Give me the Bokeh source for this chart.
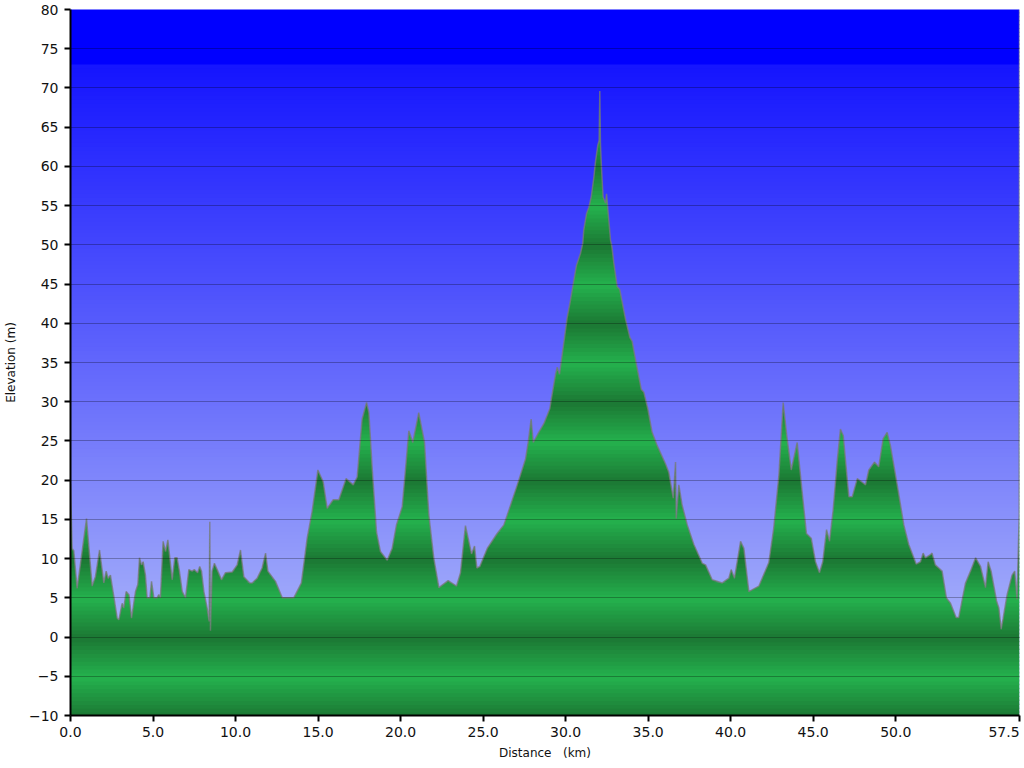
import numpy as np
from bokeh.plotting import figure
from bokeh.models import Range1d, FixedTicker, NumeralTickFormatter, LinearAxis
from bokeh.embed import file_html
from bokeh.resources import INLINE

# ---------------- data ----------------
distance_km = [
    0.00, 0.10, 0.20, 0.40, 0.55, 0.97, 1.31, 1.51, 1.76, 2.02, 2.16, 2.28, 2.42, 2.83, 2.93,
    3.13, 3.23, 3.37, 3.54, 3.70, 3.94, 4.08, 4.18, 4.30, 4.40, 4.54, 4.64, 4.81, 4.91, 5.05,
    5.25, 5.35, 5.45, 5.61, 5.76, 5.90, 6.16, 6.32, 6.46, 6.60, 6.77, 6.97, 7.17, 7.37, 7.50,
    7.70, 7.83, 7.94, 8.08, 8.28, 8.40, 8.44, 8.48, 8.58, 8.72, 8.89, 9.15, 9.39, 9.80, 10.10,
    10.30, 10.50, 10.86, 11.01, 11.31, 11.61, 11.82, 11.96, 12.42, 12.83, 13.53, 13.99, 14.34,
    14.64, 14.99, 15.31, 15.55, 15.92, 16.26, 16.70, 17.13, 17.37, 17.67, 17.94, 18.08, 18.28,
    18.54, 18.78, 19.19, 19.49, 19.75, 20.10, 20.50, 20.74, 21.10, 21.45, 21.71, 22.01, 22.32,
    22.88, 23.39, 23.63, 23.93, 24.30, 24.48, 24.62, 24.80, 25.25, 25.85, 26.26, 26.66, 27.07,
    27.57, 27.73, 27.91, 28.04, 28.37, 28.68, 29.04, 29.13, 29.39, 29.49, 29.63, 29.89, 30.09,
    30.30, 30.50, 30.66, 30.90, 31.04, 31.10, 31.27, 31.41, 31.55, 31.71, 31.81, 31.95, 32.03,
    32.07, 32.11, 32.17, 32.27, 32.42, 32.48, 32.58, 32.72, 32.80, 32.92, 33.12, 33.28, 33.63,
    33.89, 34.03, 34.23, 34.58, 34.74, 34.98, 35.24, 35.55, 36.05, 36.25, 36.52, 36.66, 36.70,
    36.86, 37.06, 37.37, 37.77, 38.28, 38.48, 38.88, 39.49, 39.89, 40.03, 40.23, 40.60, 40.80,
    41.10, 41.71, 42.31, 42.61, 42.92, 43.18, 43.42, 43.67, 44.03, 44.33, 44.59, 44.88, 45.14,
    45.38, 45.58, 45.81, 45.99, 46.21, 46.45, 46.65, 46.82, 47.16, 47.37, 47.67, 47.93, 48.17,
    48.37, 48.71, 48.97, 49.24, 49.48, 49.68, 50.09, 50.49, 50.79, 51.24, 51.50, 51.66, 51.80,
    52.10, 52.20, 52.40, 52.61, 52.81, 53.07, 53.32, 53.66, 53.82, 54.23, 54.53, 54.84, 55.14,
    55.44, 55.60, 55.78, 56.11, 56.25, 56.39, 56.51, 56.75, 57.05, 57.21, 57.35, 57.48, 57.50,
]
elevation_m = [
    19.5, 11.3, 11.0, 6.2, 8.5, 15.1, 6.5, 7.7, 11.1, 6.9, 8.4, 7.5, 7.9, 2.4, 2.2,
    4.3, 3.7, 5.8, 5.4, 2.4, 5.8, 6.7, 10.1, 9.2, 9.6, 7.9, 5.0, 5.0, 7.1, 5.0,
    5.0, 5.4, 5.0, 12.2, 10.9, 12.4, 7.3, 10.1, 10.1, 8.4, 5.8, 5.0, 8.6, 8.4, 8.6,
    8.2, 9.0, 8.4, 5.8, 3.7, 2.0, 14.7, 0.8, 8.4, 9.4, 8.6, 7.3, 8.2, 8.3, 9.2,
    11.1, 7.7, 6.9, 6.9, 7.5, 8.8, 10.7, 8.4, 7.1, 5.0, 5.0, 6.9, 12.6,
    16.0, 21.3, 19.8, 16.4, 17.5, 17.5, 20.2, 19.4, 20.4, 27.8, 29.9, 28.6, 21.5,
    13.4, 10.9, 9.8, 11.3, 14.3, 16.6, 26.3, 24.8, 28.6, 24.8, 15.6, 10.1, 6.3,
    7.2, 6.5, 8.2, 14.2, 10.6, 11.6, 8.8, 9.0, 11.3, 13.2, 14.3, 16.8, 19.4,
    22.7, 24.8, 27.8, 24.8, 26.1, 27.2, 29.1, 30.3, 33.5, 34.4, 33.5, 37.5, 40.7,
    43.0, 45.5, 47.4, 48.9, 50.2, 51.9, 54.0, 54.8, 56.1, 58.6, 60.6, 62.7, 63.3,
    69.6, 62.9, 59.9, 56.1, 55.3, 56.5, 54.0, 50.6, 49.8, 47.7, 44.7, 44.3, 40.5,
    38.2, 37.7, 35.4, 31.6, 31.2, 29.1, 26.1, 24.4, 22.1, 21.0, 17.7, 22.3, 15.1,
    19.4, 16.8, 14.3, 11.8, 9.4, 9.2, 7.3, 6.9, 7.5, 8.6, 7.5, 12.2, 11.3,
    5.8, 6.5, 9.5, 13.9, 20.6, 29.9, 25.3, 21.3, 24.8, 18.5, 13.2, 12.6, 9.6,
    8.2, 9.6, 13.7, 12.2, 16.2, 22.3, 26.5, 25.7, 17.9, 17.9, 20.2, 19.8, 19.4,
    21.3, 22.3, 21.7, 25.3, 26.1, 24.4, 19.4, 14.3, 11.8, 9.3, 9.6, 10.7, 10.1,
    10.5, 10.7, 9.2, 8.8, 8.4, 5.0, 4.3, 2.5, 2.5, 6.9, 8.4, 10.1, 9.0,
    6.3, 9.6, 8.4, 4.6, 3.7, 1.0, 2.4, 5.4, 7.9, 8.4, 4.8, 15.6, 80.0,
]
x_ticks = [0, 5, 10, 15, 20, 25, 30, 35, 40, 45, 50, 57.5]
y_ticks = list(range(-10, 81, 5))
x_title = "Distance\u00a0\u00a0\u00a0(km)"
y_title = "Elevation (m)"

X0, X1 = 0.0, 57.5
Y0, Y1 = -10.0, 80.0
STEP = 0.5
FONT = "DejaVu Sans"


def sky_color(e):
    if e >= 73:
        return "#0000ff"
    t = min(max((72.5 - e) / 72.5, 0.0), 1.0)
    r = int(22 + 146 * t)
    g = int(22 + 156 * t)
    b = int(255 - 5 * t)
    return "#%02x%02x%02x" % (r, g, b)


def ground_color(e):
    m = (e % 10.0 + 10.0) % 10.0
    d = abs(m - 5.0) / 5.0  # 0 light, 1 dark
    light = (37, 178, 78)
    dark = (28, 120, 52)
    c = [int(light[i] + (dark[i] - light[i]) * d) for i in range(3)]
    return "#%02x%02x%02x" % tuple(c)


p = figure(width=1024, height=768, output_backend="svg", toolbar_location=None,
           x_range=Range1d(X0, X1), y_range=Range1d(Y0, Y1),
           x_axis_location=None,
           min_border_left=70, min_border_right=5, min_border_top=9,
           min_border_bottom=53)
p.outline_line_color = None
p.background_fill_color = "white"
p.border_fill_color = "white"

# sky gradient
levels = np.arange(Y0, Y1, STEP)
p.quad(left=X0, right=X1, bottom=levels, top=levels + STEP + 0.15,
       fill_color=[sky_color(l + STEP / 2) for l in levels], line_color=None)

# augment profile with crossings of stripe boundaries (same polyline geometry)
xd = np.array(distance_km, dtype=float)
yd = np.array(elevation_m, dtype=float)
bounds = np.arange(Y0, Y1 + STEP / 2, STEP)
ax, ay = [xd[0]], [yd[0]]
for i in range(len(xd) - 1):
    xa, ya, xb, yb = xd[i], yd[i], xd[i + 1], yd[i + 1]
    if yb != ya:
        lo_, hi_ = min(ya, yb), max(ya, yb)
        cr = bounds[(bounds > lo_) & (bounds < hi_)]
        t = np.sort((cr - ya) / (yb - ya))
        ax.extend(list(xa + t * (xb - xa)))
        ay.extend(list(ya + t * (yb - ya)))
    ax.append(xb)
    ay.append(yb)
ax = np.array(ax)
ay = np.array(ay)

xs_list, ys_list, cols = [], [], []
for lo in levels:
    hi = lo + STEP
    if ay.max() <= lo:
        continue
    top = np.clip(ay, lo, hi)
    bottom = np.where(ay > lo, lo - 0.15, lo)
    xs_list.append(np.concatenate([ax, ax[::-1]]))
    ys_list.append(np.concatenate([top, bottom[::-1]]))
    cols.append(ground_color(lo + STEP / 2))
p.patches(xs=xs_list, ys=ys_list, fill_color=cols, line_color=None)

# profile outline
p.line(distance_km, elevation_m, line_color="#7a7a7a", line_alpha=0.75, line_width=1.5)

# grid
for g in p.xgrid:
    g.visible = False
p.ygrid.ticker = FixedTicker(ticks=y_ticks)
p.ygrid.grid_line_color = "black"
p.ygrid.grid_line_alpha = 0.28
p.ygrid.grid_line_width = 1
p.ygrid.level = "overlay"


def style(a):
    a.axis_line_color = "black"
    a.axis_line_width = 2
    a.major_tick_line_color = "black"
    a.major_tick_line_width = 2
    a.major_tick_out = 6
    a.major_tick_in = 0
    a.minor_tick_line_color = None
    a.major_label_text_font = FONT
    a.major_label_text_font_size = "14px"
    a.major_label_text_color = "#111111"
    a.axis_label_text_font = FONT
    a.axis_label_text_font_size = "12px"
    a.axis_label_text_font_style = "normal"
    a.axis_label_text_color = "#111111"


# x axis: line + tick marks (nearest the frame)
x_tick_axis = LinearAxis(ticker=FixedTicker(ticks=x_ticks))
style(x_tick_axis)
x_tick_axis.major_label_text_font_size = "0px"
x_tick_axis.major_label_standoff = 0
x_tick_axis.major_label_overrides = {t: "" for t in x_ticks}
p.add_layout(x_tick_axis, "below")

# x axis: labels + title; the last label is kept inside the page (right-aligned look)
last_label_pos = X1 - 0.94
label_ticks = x_ticks[:-1] + [last_label_pos]
x_label_axis = LinearAxis(ticker=FixedTicker(ticks=label_ticks))
style(x_label_axis)
x_label_axis.axis_line_color = None
x_label_axis.major_tick_line_color = None
x_label_axis.major_tick_out = 0
x_label_axis.formatter = NumeralTickFormatter(format="0.0")
x_label_axis.major_label_overrides = {last_label_pos: "57.5"}
x_label_axis.major_label_standoff = 5
x_label_axis.axis_label = x_title
x_label_axis.axis_label_standoff = 6
p.add_layout(x_label_axis, "below")

# y axis
style(p.yaxis[0])
p.yaxis.ticker = FixedTicker(ticks=y_ticks)
p.yaxis.major_label_standoff = 6
p.yaxis.axis_label = y_title
p.yaxis.axis_label_standoff = 8

open("out.html", "w").write(file_html(p, INLINE))
